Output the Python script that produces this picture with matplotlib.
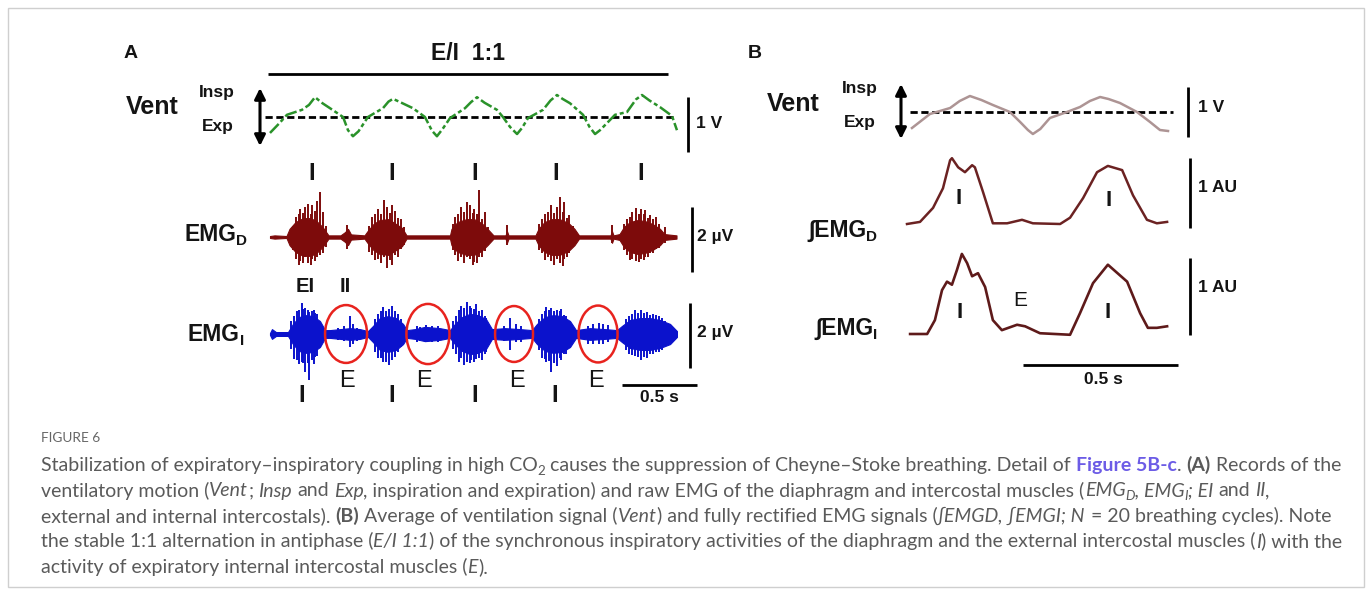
import numpy as np
import matplotlib
matplotlib.use("Agg")
import matplotlib.pyplot as plt
from matplotlib.patches import Ellipse, Rectangle

# ---------------- data ----------------
# Panel A, ventilation (s, V)
vent_a_t = [0, 0.06, 0.113, 0.213, 0.26, 0.30, 0.35, 0.40, 0.487, 0.52, 0.553, 0.59, 0.653,
            0.753, 0.79, 0.82, 0.86, 0.953, 1.033, 1.08, 1.113, 1.15, 1.20, 1.30, 1.34, 1.38,
            1.43, 1.513, 1.553, 1.60, 1.647, 1.68, 1.72, 1.82, 1.87, 1.913, 1.95, 2.0, 2.087,
            2.13, 2.167, 2.20, 2.247, 2.30, 2.38, 2.44, 2.48, 2.53, 2.60, 2.68, 2.713]
vent_a_v = [-0.29, -0.12, 0.04, 0.13, 0.22, 0.36, 0.25, 0.16, 0, -0.24, -0.35, -0.26, 0,
            0.16, 0.28, 0.33, 0.28, 0.16, 0, -0.25, -0.35, -0.22, -0.02, 0.16, 0.27, 0.36,
            0.26, 0.13, 0, -0.18, -0.31, -0.20, -0.02, 0.13, 0.30, 0.40, 0.33, 0.25, 0.04,
            -0.18, -0.31, -0.24, -0.11, 0.04, 0.09, 0.32, 0.40, 0.30, 0.18, 0.02, -0.24]

# Panel A, raw diaphragm EMG: envelope (s, half amplitude uV) + spikes (s, up, down)
emg_d_t = [0, 0.03, 0.11, 0.13, 0.17, 0.22, 0.27, 0.31, 0.35, 0.39, 0.47, 0.50, 0.52, 0.54,
           0.63, 0.65, 0.69, 0.73, 0.79, 0.83, 0.88, 0.91, 1.20, 1.21, 1.25, 1.31, 1.36, 1.41,
           1.45, 1.49, 1.57, 1.58, 1.59, 1.77, 1.79, 1.83, 1.88, 1.93, 1.99, 2.03, 2.06, 2.27,
           2.28, 2.29, 2.33, 2.36, 2.40, 2.45, 2.50, 2.55, 2.60, 2.63, 2.71]
emg_d_env = [0.03, 0.05, 0.03, 0.25, 0.46, 0.58, 0.58, 0.49, 0.31, 0.05, 0.05, 0.15, 0.25, 0.08,
             0.05, 0.18, 0.40, 0.52, 0.55, 0.43, 0.28, 0.05, 0.05, 0.25, 0.46, 0.55, 0.55, 0.43,
             0.25, 0.05, 0.05, 0.18, 0.05, 0.05, 0.25, 0.46, 0.55, 0.55, 0.43, 0.25, 0.05, 0.05,
             0.18, 0.05, 0.09, 0.31, 0.46, 0.52, 0.49, 0.40, 0.25, 0.09, 0.05]
emg_d_spikes = [(0.17, 0.62, 0.68), (0.20, 0.86, 0.74), (0.23, 0.92, 0.62), (0.25, 1.02, 0.80),
                (0.28, 0.98, 0.68), (0.31, 1.11, 0.62), (0.33, 1.38, 0.55), (0.35, 0.77, 0.49),
                (0.15, 0.35, 0.40), (0.19, 0.70, 0.85), (0.22, 0.75, 0.80), (0.27, 0.72, 0.86),
                (0.30, 0.80, 0.75), (0.37, 0.35, 0.30),
                (0.51, 0.37, 0.37),
                (0.68, 0.62, 0.55), (0.72, 0.86, 0.68), (0.76, 1.14, 0.62), (0.78, 0.92, 0.95),
                (0.81, 0.98, 0.86), (0.83, 0.80, 0.55), (0.87, 0.55, 0.37),
                (0.66, 0.35, 0.45), (0.70, 0.70, 0.72), (0.74, 0.72, 0.80), (0.80, 0.75, 0.70),
                (0.85, 0.60, 0.62), (0.89, 0.30, 0.25),
                (1.23, 0.62, 0.55), (1.27, 0.92, 0.62), (1.31, 1.08, 0.62), (1.33, 0.98, 0.68),
                (1.36, 0.86, 0.77), (1.39, 1.45, 0.62), (1.43, 0.77, 0.43),
                (1.22, 0.40, 0.40), (1.25, 0.70, 0.75), (1.29, 0.78, 0.80), (1.35, 0.75, 0.85),
                (1.38, 0.70, 0.80), (1.41, 0.55, 0.60), (1.45, 0.30, 0.25),
                (1.58, 0.37, 0.25),
                (1.81, 0.55, 0.49), (1.85, 0.77, 0.62), (1.87, 0.98, 0.74), (1.91, 0.92, 0.68),
                (1.93, 1.23, 0.80), (1.96, 1.08, 0.68), (1.99, 0.68, 0.49),
                (1.79, 0.40, 0.40), (1.83, 0.70, 0.72), (1.89, 0.75, 0.85), (1.95, 0.78, 0.90),
                (1.98, 0.60, 0.62), (2.02, 0.35, 0.30),
                (2.28, 0.37, 0.18),
                (2.38, 0.55, 0.55), (2.41, 0.77, 0.68), (2.44, 0.89, 0.74), (2.47, 0.86, 0.68),
                (2.50, 0.83, 0.62), (2.53, 0.68, 0.49), (2.57, 0.62, 0.37), (2.63, 0.31, 0.18),
                (2.36, 0.40, 0.40), (2.40, 0.62, 0.70), (2.46, 0.70, 0.76), (2.49, 0.70, 0.72),
                (2.52, 0.60, 0.62), (2.55, 0.55, 0.50), (2.59, 0.40, 0.35)]

# Panel A, raw intercostal EMG
emg_i_t = [0, 0.013, 0.04, 0.12, 0.153, 0.193, 0.24, 0.287, 0.333, 0.367, 0.40, 0.467, 0.533,
           0.60, 0.653, 0.687, 0.733, 0.787, 0.84, 0.887, 0.913, 0.967, 1.033, 1.133, 1.20,
           1.233, 1.28, 1.333, 1.387, 1.44, 1.48, 1.567, 1.667, 1.747, 1.78, 1.833, 1.887,
           1.947, 2.0, 2.04, 2.133, 2.233, 2.313, 2.347, 2.40, 2.467, 2.533, 2.60, 2.667, 2.713]
emg_i_env = [0.03, 0.15, 0.06, 0.06, 0.31, 0.52, 0.58, 0.55, 0.40, 0.12, 0.12, 0.15, 0.18,
             0.15, 0.09, 0.25, 0.49, 0.55, 0.49, 0.31, 0.12, 0.15, 0.22, 0.18, 0.12,
             0.31, 0.52, 0.62, 0.58, 0.46, 0.15, 0.18, 0.15, 0.12, 0.31, 0.52, 0.58,
             0.55, 0.40, 0.12, 0.18, 0.15, 0.12, 0.25, 0.43, 0.49, 0.49, 0.43, 0.31, 0.09]
emg_i_spikes = [(0.16, 0.55, 0.77), (0.19, 0.74, 0.92), (0.21, 0.95, 0.86), (0.23, 0.80, 1.17),
                (0.26, 0.68, 1.42), (0.29, 0.74, 0.92), (0.31, 0.62, 0.68),
                (0.14, 0.40, 0.45), (0.18, 0.70, 0.80), (0.22, 0.78, 0.90), (0.25, 0.75, 0.88),
                (0.28, 0.70, 0.80), (0.30, 0.65, 0.70), (0.33, 0.35, 0.40),
                (0.49, 0.25, 0.20), (0.53, 0.55, 0.40), (0.55, 0.30, 0.30),
                (0.45, 0.18, 0.18), (0.58, 0.20, 0.20),
                (0.72, 0.62, 0.74), (0.75, 0.83, 0.86), (0.79, 0.77, 0.95), (0.81, 0.86, 0.80),
                (0.85, 0.62, 0.55),
                (0.70, 0.45, 0.55), (0.74, 0.70, 0.75), (0.77, 0.72, 0.85), (0.83, 0.70, 0.72),
                (0.87, 0.45, 0.40),
                (1.00, 0.22, 0.20), (1.08, 0.25, 0.25), (0.98, 0.25, 0.25), (1.04, 0.28, 0.25),
                (1.12, 0.24, 0.24),
                (1.24, 0.55, 0.62), (1.27, 0.86, 0.74), (1.31, 0.98, 0.86), (1.34, 0.80, 0.80),
                (1.37, 0.92, 0.77), (1.41, 0.74, 0.80), (1.44, 0.49, 0.55),
                (1.22, 0.40, 0.45), (1.26, 0.75, 0.85), (1.29, 0.80, 0.95), (1.33, 0.85, 0.90),
                (1.36, 0.78, 0.85), (1.39, 0.72, 0.75), (1.43, 0.55, 0.60),
                (1.60, 0.49, 0.49), (1.67, 0.25, 0.25), (1.56, 0.25, 0.22), (1.64, 0.30, 0.25),
                (1.81, 0.62, 0.74), (1.84, 0.83, 0.86), (1.87, 0.80, 1.17), (1.91, 0.74, 0.98),
                (1.94, 0.77, 0.80), (1.97, 0.55, 0.62),
                (1.79, 0.45, 0.50), (1.83, 0.72, 0.78), (1.86, 0.75, 0.82), (1.89, 0.72, 0.90),
                (1.93, 0.70, 0.75), (1.96, 0.60, 0.62), (1.99, 0.40, 0.42),
                (2.15, 0.30, 0.30), (2.22, 0.30, 0.30), (2.12, 0.25, 0.30), (2.19, 0.35, 0.30),
                (2.25, 0.28, 0.25),
                (2.39, 0.55, 0.62), (2.43, 0.74, 0.68), (2.47, 0.74, 0.80), (2.51, 0.68, 0.74),
                (2.55, 0.62, 0.62), (2.59, 0.55, 0.55), (2.63, 0.40, 0.37),
                (2.37, 0.45, 0.50), (2.41, 0.62, 0.66), (2.45, 0.65, 0.70), (2.49, 0.66, 0.70),
                (2.53, 0.60, 0.62), (2.57, 0.58, 0.56), (2.61, 0.50, 0.50), (2.66, 0.30, 0.30)]
# expiratory (E) windows circled in red: centre (s), width (s), height (uV)
e_circ_t = [0.507, 1.053, 1.627, 2.187]
e_circ_w = [0.28, 0.287, 0.253, 0.26]
e_circ_h = [1.78, 1.85, 1.72, 1.75]

# Panel B, averaged signals (s)
vent_b_t = [0.016, 0.074, 0.139, 0.17, 0.203, 0.24, 0.277, 0.332, 0.365, 0.39, 0.406, 0.43,
            0.461, 0.516, 0.558, 0.59, 0.623, 0.65, 0.687, 0.742, 0.784, 0.816, 0.842]
vent_b_v = [-0.32, -0.04, 0.08, 0.22, 0.32, 0.24, 0.14, 0, -0.2, -0.36, -0.44, -0.34,
            -0.12, 0, 0.10, 0.22, 0.30, 0.26, 0.18, 0, -0.2, -0.36, -0.38]
int_d_t = [0, 0.042, 0.084, 0.116, 0.139, 0.145, 0.165, 0.187, 0.21, 0.219, 0.245, 0.277,
           0.323, 0.371, 0.406, 0.494, 0.526, 0.568, 0.613, 0.648, 0.694, 0.729, 0.774,
           0.806, 0.839]
int_d_a = [0, 0.03, 0.23, 0.51, 0.91, 0.94, 0.81, 0.74, 0.84, 0.81, 0.46, 0.01,
           0.01, 0.06, 0.01, 0, 0.09, 0.37, 0.74, 0.83, 0.77, 0.41, 0.06, 0.01, 0.03]
int_i_t = [0.01, 0.065, 0.09, 0.113, 0.129, 0.145, 0.161, 0.177, 0.194, 0.21, 0.229, 0.252,
           0.277, 0.306, 0.355, 0.381, 0.429, 0.526, 0.558, 0.60, 0.648, 0.71, 0.752, 0.777,
           0.806, 0.839]
int_i_a = [0, 0, 0.18, 0.57, 0.68, 0.64, 0.83, 1.04, 0.92, 0.75, 0.79, 0.61,
           0.18, 0.05, 0.12, 0.10, 0.01, -0.01, 0.27, 0.66, 0.90, 0.68, 0.27, 0.08,
           0.08, 0.10]

caption = [
    [("Stabilization of expiratory\u2013inspiratory coupling in high CO", "n"), ("2", "s"),
     (" causes the suppression of Cheyne\u2013Stoke breathing. Detail of ", "n"),
     ("Figure 5B-c", "l"), (". ", "n"), ("(A)", "b"), (" Records of the", "n")],
    [("ventilatory motion (", "n"), ("Vent", "i"), ("; ", "n"), ("Insp", "i"), (" and ", "n"),
     ("Exp", "i"), (", inspiration and expiration) and raw EMG of the diaphragm and intercostal muscles (", "n"),
     ("EMG", "i"), ("D", "is"), (", EMG", "i"), ("I", "is"), ("; EI", "i"), (" and ", "n"),
     ("II", "i"), (",", "n")],
    [("external and internal intercostals). ", "n"), ("(B)", "b"),
     (" Average of ventilation signal (", "n"), ("Vent", "i"),
     (") and fully rectified EMG signals (", "n"), ("\u222bEMGD, \u222bEMGI; N", "i"),
     (" = 20 breathing cycles). Note", "n")],
    [("the stable 1:1 alternation in antiphase (", "n"), ("E/I 1:1", "i"),
     (") of the synchronous inspiratory activities of the diaphragm and the external intercostal muscles (", "n"),
     ("I", "i"), (") with the", "n")],
    [("activity of expiratory internal intercostal muscles (", "n"), ("E", "i"), (").", "n")],
]

# ---------------- figure ----------------
W, H = 1372, 594
fig = plt.figure(figsize=(W / 100, H / 100), dpi=100)
renderer = fig.canvas.get_renderer()

ov = fig.add_axes([0, 0, 1, 1])
ov.set_xlim(0, W)
ov.set_ylim(H, 0)
ov.axis('off')
ov.add_patch(Rectangle((8, 8), 1356, 579, fill=False, ec='#cfcfcf', lw=1))


def trace_axes(x0, y0, sx, sy):
    # whole-figure axes whose data origin sits at pixel (x0, y0)
    ax = fig.add_axes([0, 0, 1, 1])
    ax.set_xlim(-x0 / sx, (W - x0) / sx)
    ax.set_ylim((y0 - H) / sy, y0 / sy)
    ax.axis('off')
    return ax


def draw_emg(ax, t, env, spikes, color):
    env = np.asarray(env)
    ax.fill_between(t, -env, env, color=color, lw=0.8, ec=color)
    for st, up, dn in spikes:
        ax.plot([st, st], [-dn, up], color=color, lw=1.4, solid_capstyle='butt')


def rich(x, y, parts, **base):
    # draws text pieces one after another on a common baseline (pixel coords)
    for s, kw in parts:
        st = dict(base)
        st.update(kw)
        dy = st.pop('dy', 0)
        core = s.strip(' ')
        lead = len(s) - len(s.lstrip(' '))
        trail = len(s) - len(s.rstrip(' '))
        a = fig.text(0, 0, 'a a', **st)
        b = fig.text(0, 0, 'aa', **st)
        sp = a.get_window_extent(renderer).width - b.get_window_extent(renderer).width
        a.remove()
        b.remove()
        x += lead * sp
        if core:
            t = fig.text(x / W, 1 - (y + dy) / H, core, va='baseline', ha='left', **st)
            x += t.get_window_extent(renderer).width
        x += trail * sp
    return x


LAB = dict(family=['Liberation Sans', 'DejaVu Sans'], weight='bold', color='#141414')
BAR = dict(color='k', lw=2, solid_capstyle='butt')
arrow = dict(arrowstyle='<|-|>', color='k', lw=2.2, mutation_scale=16, shrinkA=0, shrinkB=0)

# ---------- panel A ----------
ax_v = trace_axes(270, 117, 150, 55)
ax_v.plot([-0.013, 2.653], [0.78, 0.78], **BAR)
ax_v.plot([-0.033, 2.687], [0, 0], color='k', lw=2, ls=(0, (2.6, 1.3)))
ax_v.plot(vent_a_t, vent_a_v, color='#2a922a', lw=1.8, ls=(0, (5, 1.2, 1.6, 1.2)))
ax_v.plot([2.787, 2.787], [0.36, -0.64], **BAR)

ax_d = trace_axes(270, 237, 150, 32.5)
draw_emg(ax_d, emg_d_t, emg_d_env, emg_d_spikes, '#7d0b0b')
ax_d.plot([2.813, 2.813], [0.92, -1.08], **BAR)

ax_i = trace_axes(270, 334, 150, 32.5)
draw_emg(ax_i, emg_i_t, emg_i_env, emg_i_spikes, '#0b12cc')
for c, w, h in zip(e_circ_t, e_circ_w, e_circ_h):
    ax_i.add_patch(Ellipse((c, 0), w, h, fill=False, ec='#e8231e', lw=1.8))
ax_i.plot([2.80, 2.80], [0.95, -1.05], **BAR)
ax_i.plot([2.347, 2.847], [-1.57, -1.57], **BAR)

ov.text(131, 53, 'A', ha='center', va='center', size=14, **LAB)
ov.text(468, 53, 'E/I  1:1', ha='center', va='center', size=16.5, **LAB)
ov.text(126, 107, 'Vent', ha='left', va='center', size=18, **LAB)
ov.text(217, 92, 'Insp', ha='center', va='center', size=12.5, **LAB)
ov.text(218, 127, 'Exp', ha='center', va='center', size=12.5, **LAB)
ov.annotate('', xy=(260, 146), xytext=(260, 88), arrowprops=arrow)
ov.text(696, 124, '1 V', ha='left', va='center', size=12.5, **LAB)
for x in [312, 392, 475, 556, 641]:
    ov.text(x, 173, 'I', ha='center', va='center', size=17, **LAB)
rich(184, 241, [("EMG", {}), ("D", dict(size=11, dy=4))], size=16.5, **LAB)
ov.text(697, 237, '2 \u00b5V', ha='left', va='center', size=12.5, **LAB)
ov.text(305, 286, 'EI', ha='center', va='center', size=14.5, **LAB)
ov.text(345, 286, 'II', ha='center', va='center', size=14.5, **LAB)
rich(188, 341, [("EMG", {}), ("I", dict(size=11, dy=4))], size=16.5, **LAB)
ov.text(697, 333, '2 \u00b5V', ha='left', va='center', size=12.5, **LAB)
for x in [347, 424, 517, 596]:
    ov.text(x, 381, 'E', ha='center', va='center', size=17,
            family=['Liberation Sans', 'DejaVu Sans'], color='#141414')
for x in [302, 392, 475, 555]:
    ov.text(x, 395, 'I', ha='center', va='center', size=17, **LAB)
ov.text(659, 398, '0.5 s', ha='center', va='center', size=12.5, **LAB)

# ---------- panel B ----------
bx_v = trace_axes(907, 112, 310, 50)
bx_v.plot([0.01, 0.858], [0, 0], color='k', lw=2, ls=(0, (2.6, 1.3)))
bx_v.plot(vent_b_t, vent_b_v, color='#ad9494', lw=1.8)
bx_v.plot([0.906, 0.906], [0.5, -0.5], **BAR)

bx_d = trace_axes(907, 224, 310, 70)
bx_d.plot(int_d_t, int_d_a, color='#6b2222', lw=1.8)
bx_d.plot([0.913, 0.913], [0.94, -0.06], **BAR)

bx_i = trace_axes(907, 334, 310, 77)
bx_i.plot(int_i_t, int_i_a, color='#5e1a1a', lw=1.9)
bx_i.plot([0.913, 0.913], [0.99, -0.01], **BAR)
bx_i.plot([0.374, 0.874], [-0.40, -0.40], **BAR)

ov.text(755, 53, 'B', ha='center', va='center', size=14, **LAB)
ov.text(767, 104, 'Vent', ha='left', va='center', size=18, **LAB)
ov.text(860, 88, 'Insp', ha='center', va='center', size=12.5, **LAB)
ov.text(860, 123, 'Exp', ha='center', va='center', size=12.5, **LAB)
ov.annotate('', xy=(901, 139), xytext=(901, 84), arrowprops=arrow)
ov.text(1198, 107, '1 V', ha='left', va='center', size=12.5, **LAB)
rich(808, 237, [("\u222bEMG", {}), ("D", dict(size=11, dy=4))], size=16.5, **LAB)
ov.text(1198, 187, '1 AU', ha='left', va='center', size=12.5, **LAB)
ov.text(959, 199, 'I', ha='center', va='center', size=16, **LAB)
ov.text(1109, 200, 'I', ha='center', va='center', size=16, **LAB)
rich(815, 335, [("\u222bEMG", {}), ("I", dict(size=11, dy=4))], size=16.5, **LAB)
ov.text(1198, 287, '1 AU', ha='left', va='center', size=12.5, **LAB)
ov.text(1020, 300, 'E', ha='center', va='center', size=15,
        family=['Liberation Sans', 'DejaVu Sans'], color='#141414')
ov.text(960, 313, 'I', ha='center', va='center', size=16, **LAB)
ov.text(1108, 313, 'I', ha='center', va='center', size=16, **LAB)
ov.text(1103, 379, '0.5 s', ha='center', va='center', size=12.5, **LAB)

# ---------- caption ----------
CAP = dict(family=['Lato', 'DejaVu Sans'], size=14.0, color='#5a5a5a')
STY = {'n': {}, 'i': {'style': 'italic'}, 'b': {'weight': 'bold'},
       'l': {'weight': 'bold', 'color': '#6c5ce6'},
       's': {'size': 9.6, 'dy': 4}, 'is': {'style': 'italic', 'size': 9.6, 'dy': 4}}
fig.text(41 / W, 1 - 442 / H, 'FIGURE 6', va='baseline', ha='left',
         family=['Lato', 'DejaVu Sans'], size=9.8, color='#666666')
for k, line in enumerate(caption):
    rich(41, 471 + 25.5 * k, [(s, STY[st]) for s, st in line], **CAP)

fig.savefig('out.png', dpi=100)
